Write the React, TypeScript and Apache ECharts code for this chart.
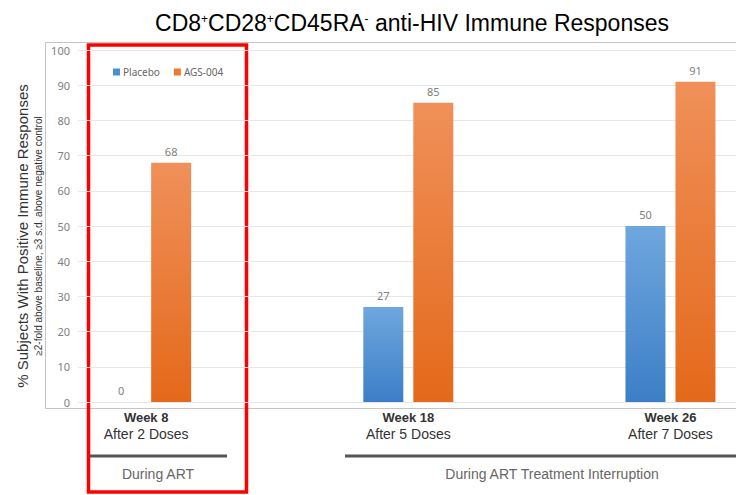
import React, { useEffect, useRef } from "react";
import * as echarts from "echarts";

const categories = ["Week 8", "Week 18", "Week 26"];
const doseLabels = ["After 2 Doses", "After 5 Doses", "After 7 Doses"];
const placebo = [0, 27, 50];
const ags004 = [68, 85, 91];
const seriesNames = ["Placebo", "AGS-004"];
const phaseLabels = ["During ART", "During ART Treatment Interruption"];
const yAxisTitle = "% Subjects With Positive Immune Responses";
const yAxisSubtitle = "≥2-fold above baseline, ≥3 s.d. above negative control";

const FONT = "'Liberation Sans', Arial, sans-serif";

export default function App() {
  const ref = useRef<HTMLDivElement>(null);
  useEffect(() => {
    if (!ref.current) return;
    const chart = echarts.init(ref.current, null, { renderer: "svg" });
    const grad = (a: string, b: string) =>
      new echarts.graphic.LinearGradient(0, 0, 0, 1, [
        { offset: 0, color: a },
        { offset: 1, color: b },
      ]);
    const labelStyle = {
      show: true,
      position: "top" as const,
      distance: 6,
      color: "#808080",
      fontSize: 11,
      fontFamily: "'Noto Sans', sans-serif",
    };
    chart.setOption({
      animation: false,
      textStyle: { fontFamily: FONT },
      grid: { left: 78, right: 0, top: 50, bottom: 93 },
      legend: {
        data: [
          { name: seriesNames[0], itemStyle: { color: "#4a8fd4" } },
          { name: seriesNames[1], itemStyle: { color: "#ee7a30" } },
        ],
        left: 108,
        top: 62,
        icon: "rect",
        itemWidth: 7,
        itemHeight: 7,
        itemGap: 14,
        textStyle: { color: "#666", fontSize: 10, fontFamily: "'Noto Sans', sans-serif", padding: [0, 0, 0, -2] },
      },
      xAxis: {
        type: "value",
        min: -0.26,
        max: 2.25,
        splitLine: { show: false },
        axisLine: { show: false },
        axisTick: { show: false },
        axisLabel: {
          customValues: [0, 1, 2],
          margin: 7,
          formatter: (v: number) => {
            const i = Math.round(v);
            return `{b|${categories[i]}}\n{n|${doseLabels[i]}}`;
          },
          rich: {
            b: { fontSize: 13, fontWeight: "bold", color: "#333", lineHeight: 16, fontFamily: FONT },
            n: { fontSize: 14, color: "#333", lineHeight: 17, fontFamily: FONT },
          },
        },
      },
      yAxis: {
        type: "value",
        min: 0,
        max: 100,
        interval: 10,
        axisLine: { show: false },
        axisTick: { show: false },
        axisLabel: { color: "#808080", fontSize: 11, margin: 8, fontFamily: "'Noto Sans', sans-serif" },
        splitLine: { lineStyle: { color: "#e6e6e6", width: 1 } },
      },
      series: [
        {
          name: seriesNames[0],
          type: "bar",
          barWidth: 40,
          barGap: "25%",
          data: placebo.map((v, i) => [i, v]),
          itemStyle: { color: grad("#6fa7de", "#3c7ec6") },
          label: labelStyle,
        },
        {
          name: seriesNames[1],
          type: "bar",
          barWidth: 40,
          barGap: "25%",
          data: ags004.map((v, i) => [i, v]),
          itemStyle: { color: grad("#f0905a", "#e4691a") },
          label: labelStyle,
        },
      ],
      graphic: [
        {
          type: "rect",
          silent: true,
          shape: { x: 45.5, y: 42.5, width: 720, height: 366 },
          style: { fill: "none", stroke: "#c4c4c4", lineWidth: 1 },
        },
        {
          type: "text",
          x: 412,
          y: 6,
          style: {
            text: "{m|CD8}{s|+}{m|CD28}{s|+}{m|CD45RA}{s|-}{m| anti-HIV Immune Responses}",
            align: "center",
            verticalAlign: "top",
            rich: {
              m: { fontSize: 23, color: "#1a1a1a", fontFamily: FONT, lineHeight: 28, verticalAlign: "bottom" },
              s: { fontSize: 12, color: "#1a1a1a", fontFamily: FONT, lineHeight: 28, verticalAlign: "top", padding: [7, 0, 0, 0] },
            },
          },
        },
        {
          type: "text",
          x: 22,
          y: 236,
          rotation: Math.PI / 2,
          style: {
            text: yAxisTitle,
            align: "center",
            verticalAlign: "middle",
            fontSize: 15,
            fill: "#333",
            fontFamily: FONT,
          },
        },
        {
          type: "text",
          x: 38,
          y: 236,
          rotation: Math.PI / 2,
          style: {
            text: yAxisSubtitle,
            align: "center",
            verticalAlign: "middle",
            fontSize: 10,
            fill: "#333",
            fontFamily: FONT,
          },
        },
        {
          type: "line",
          shape: { x1: 90, y1: 456, x2: 227, y2: 456 },
          style: { stroke: "#555", lineWidth: 3 },
        },
        {
          type: "line",
          shape: { x1: 345, y1: 456, x2: 736, y2: 456 },
          style: { stroke: "#555", lineWidth: 3 },
        },
        {
          type: "text",
          x: 158,
          y: 474,
          style: { text: phaseLabels[0], align: "center", verticalAlign: "middle", fontSize: 14, fill: "#666", fontFamily: FONT },
        },
        {
          type: "text",
          x: 552,
          y: 474,
          style: { text: phaseLabels[1], align: "center", verticalAlign: "middle", fontSize: 14, fill: "#666", fontFamily: FONT },
        },
        {
          type: "rect",
          silent: true,
          shape: { x: 88.5, y: 45, width: 158, height: 447 },
          style: { fill: "none", stroke: "#ff0000", lineWidth: 3.5 },
        },
      ],
    });
    return () => chart.dispose();
  }, []);
  return <div ref={ref} style={{ width: 736, height: 495, position: "absolute", left: 0, top: 0 }} />;
}
